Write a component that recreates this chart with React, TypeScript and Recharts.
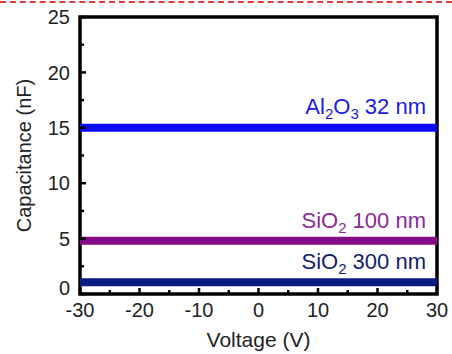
import { LineChart, Line, XAxis, YAxis, ReferenceArea } from 'recharts';

const voltages = [-30, -20, -10, 0, 10, 20, 30];
const al2o3_32nm = [15, 15, 15, 15, 15, 15, 15];
const sio2_100nm = [4.8, 4.8, 4.8, 4.8, 4.8, 4.8, 4.8];
const sio2_300nm = [1.05, 1.05, 1.05, 1.05, 1.05, 1.05, 1.05];

const xTicks = [-30, -25, -20, -15, -10, -5, 0, 5, 10, 15, 20, 25, 30];
const yTicks = [0, 2.5, 5, 7.5, 10, 12.5, 15, 17.5, 20, 22.5, 25];

const data = voltages.map((v, i) => ({
  v,
  al: al2o3_32nm[i],
  s100: sio2_100nm[i],
  s300: sio2_300nm[i],
}));

const FONT = '"Liberation Sans", Arial, sans-serif';
const X_MARGIN = 9;
const Y_MARGIN = 10;

const XTick = (props: any) => {
  const { x, y, payload } = props;
  const major = payload.value % 10 === 0;
  const axisY = y - X_MARGIN;
  return (
    <g>
      <line x1={x} x2={x} y1={axisY} y2={axisY - (major ? 6 : 4)} stroke="#000" strokeWidth={2.5} />
      {major && (
        <text x={x} y={y} dy="0.71em" textAnchor="middle" fontSize={20} fill="#222" fontFamily={FONT}>
          {payload.value}
        </text>
      )}
    </g>
  );
};

const YTick = (props: any) => {
  const { x, y, payload } = props;
  const major = payload.value % 5 === 0;
  const axisX = x + Y_MARGIN;
  return (
    <g>
      <line x1={axisX} x2={axisX + (major ? 6 : 4)} y1={y} y2={y} stroke="#000" strokeWidth={2.5} />
      {major && (
        <text
          x={x}
          y={payload.value === 0 ? y - 6 : y}
          dy="0.355em"
          textAnchor="end"
          fontSize={20}
          fill="#222"
          fontFamily={FONT}
        >
          {payload.value}
        </text>
      )}
    </g>
  );
};

const makeLabel = (name: string, sub: string, rest: string, color: string) => (props: any) => {
  const { x, y, index } = props;
  if (index !== voltages.length - 1) return null;
  return (
    <text x={x - 11} y={y - 13} textAnchor="end" fontSize={22} fill={color} fontFamily={FONT}>
      {name}
      <tspan fontSize={15} dy={5}>{sub}</tspan>
      <tspan dy={-5}>{rest}</tspan>
    </text>
  );
};

const AlLabel = (props: any) => {
  const { x, y, index } = props;
  if (index !== voltages.length - 1) return null;
  return (
    <text x={x - 11} y={y - 14} textAnchor="end" fontSize={22} fill="#1a1ae6" fontFamily={FONT}>
      Al
      <tspan fontSize={15} dy={5}>2</tspan>
      <tspan dy={-5}>O</tspan>
      <tspan fontSize={15} dy={5}>3</tspan>
      <tspan dy={-5}> 32 nm</tspan>
    </text>
  );
};

export default function App() {
  return (
    <div style={{ position: 'absolute', left: 0, top: 0, width: 452, height: 354, background: '#fff' }}>
      <div
        style={{
          position: 'absolute',
          left: 0,
          top: 1,
          width: 452,
          borderTop: '2px dashed #e03a3a',
        }}
      />
      <LineChart width={452} height={354} data={data} margin={{ top: 17, right: 15, left: 0, bottom: 0 }}>
        <XAxis
          dataKey="v"
          type="number"
          domain={[-30, 30]}
          ticks={xTicks}
          interval={0}
          axisLine={false}
          tickLine={false}
          tickSize={0}
          tickMargin={X_MARGIN}
          tick={<XTick />}
          height={60}
          label={{ value: 'Voltage (V)', position: 'insideBottom', offset: 7, fontSize: 21, fill: '#222', fontFamily: FONT }}
        />
        <YAxis
          type="number"
          domain={[0, 25]}
          ticks={yTicks}
          interval={0}
          axisLine={false}
          tickLine={false}
          tickSize={0}
          tickMargin={Y_MARGIN}
          tick={<YTick />}
          width={80}
          label={{
            value: 'Capacitance (nF)',
            angle: -90,
            position: 'insideLeft',
            offset: 24,
            style: { textAnchor: 'middle' },
            fontSize: 20,
            fill: '#222',
            fontFamily: FONT,
          }}
        />
        <Line
          dataKey="al"
          stroke="#0a0aff"
          strokeWidth={8}
          dot={false}
          isAnimationActive={false}
          label={<AlLabel />}
        />
        <Line
          dataKey="s100"
          stroke="#850b85"
          strokeWidth={8}
          dot={false}
          isAnimationActive={false}
          label={makeLabel('SiO', '2', ' 100 nm', '#8a2a96')}
        />
        <Line
          dataKey="s300"
          stroke="#0c1a82"
          strokeWidth={8}
          dot={false}
          isAnimationActive={false}
          label={makeLabel('SiO', '2', ' 300 nm', '#141e6e')}
        />
        <ReferenceArea x1={-30} x2={30} y1={0} y2={25} fill="none" fillOpacity={0} stroke="#000" strokeWidth={3.5} ifOverflow="visible" />
      </LineChart>
    </div>
  );
}
